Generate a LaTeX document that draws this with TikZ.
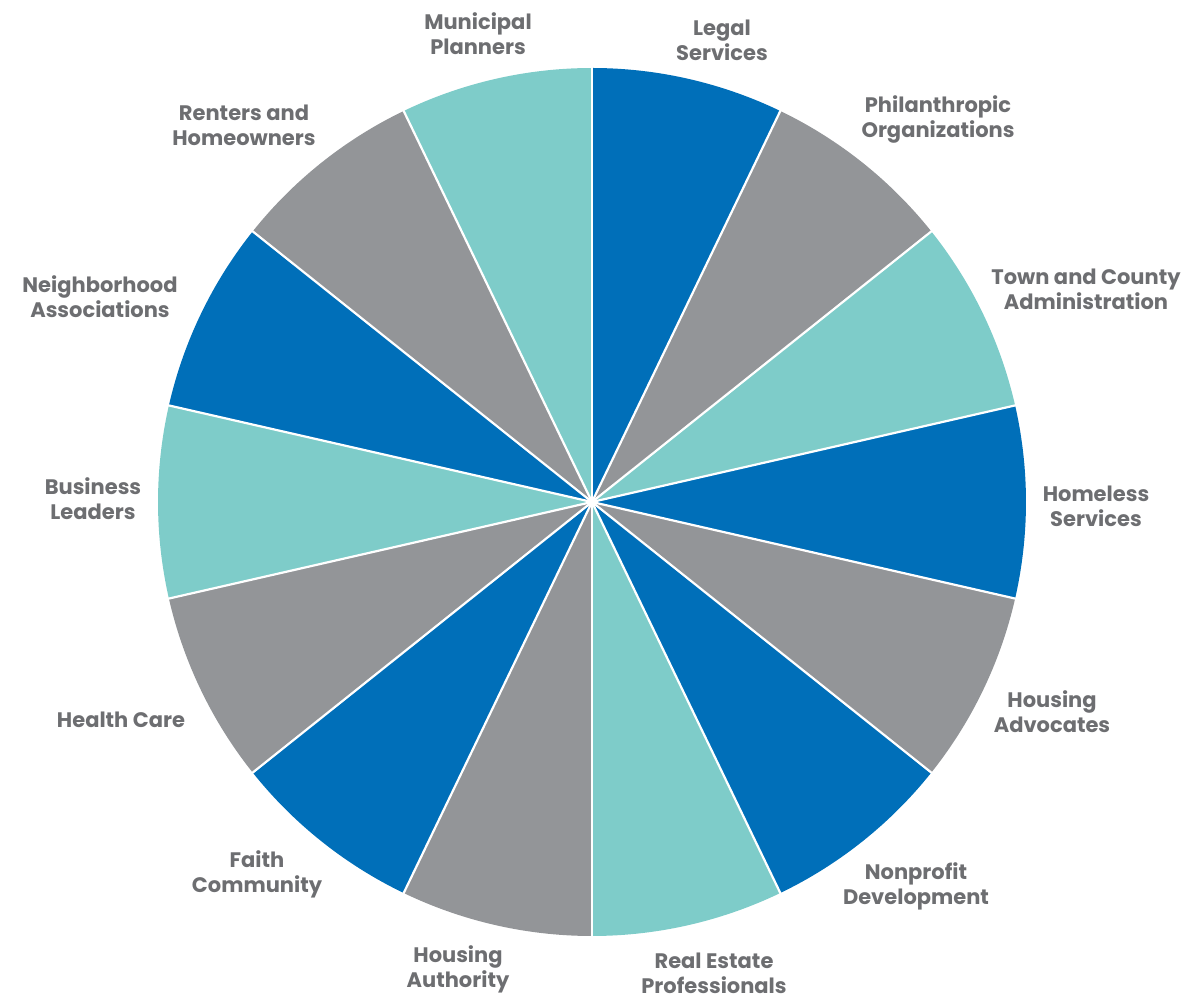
\documentclass[tikz,border=0pt]{standalone}
\usepackage{fontspec}
\setmainfont{Poppins}
\definecolor{cblue}{HTML}{006FB9}
\definecolor{cgray}{HTML}{939598}
\definecolor{cteal}{HTML}{7ECCC9}
\definecolor{ctext}{HTML}{6D6E71}
\begin{document}
\begin{tikzpicture}[x=1pt,y=1pt,
  lbl/.style={align=center,text=ctext,font=\fontsize{21}{25}\selectfont\bfseries,inner sep=0pt}]
\useasboundingbox (0,0) rectangle (1184,997);
\coordinate (c) at (592,495);
\foreach \col [count=\i from 0] in {cblue,cgray,cteal,cblue,cgray,cblue,cteal,cgray,cblue,cgray,cteal,cblue,cgray,cteal}{
  \pgfmathsetmacro{\sa}{90-360/14*\i}
  \pgfmathsetmacro{\ea}{90-360/14*(\i+1)}
  \fill[\col] (c) -- ++(\sa:434) arc[start angle=\sa,end angle=\ea,radius=434] -- cycle;
}
\foreach \i in {0,...,13}{
  \pgfmathsetmacro{\sa}{90-360/14*\i}
  \draw[white,line width=2.2pt] (c) -- ++(\sa:436);
}
\node[lbl] (l1) at (478,963) {Municipal\\Planners};
\node[lbl] (l2) at (722,957) {Legal\\Services};
\node[lbl] (l3) at (938,878) {Philanthropic\\Organizations};
\node[lbl] (l4) at (1086,708) {Town and County\\Administration};
\node[lbl] (l5) at (1096,491) {Homeless\\Services};
\node[lbl] (l6) at (1052,285) {Housing\\Advocates};
\node[lbl] (l7) at (916,111) {Nonprofit\\Development};
\node[lbl] (l8) at (714,24) {Real Estate\\Professionals};
\node[lbl] (l9) at (458,28) {Housing\\Authority};
\node[lbl] (l10) at (257,123) {Faith\\Community};
\node[lbl] (l11) at (121,277) {Health Care};
\node[lbl] (l12) at (93,498) {Business\\Leaders};
\node[lbl] (l13) at (100,700) {Neighborhood\\Associations};
\node[lbl] (l14) at (244,872) {Renters and\\Homeowners};
\end{tikzpicture}
\end{document}
